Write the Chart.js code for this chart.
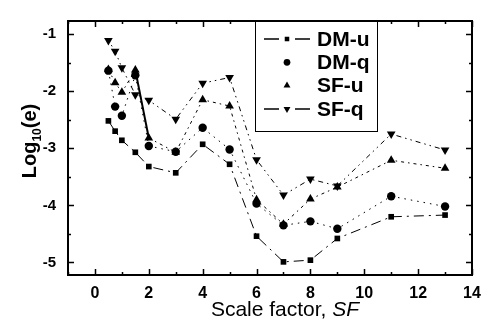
<!DOCTYPE html>
<html>
<head>
<meta charset="utf-8">
<script src="https://cdn.jsdelivr.net/npm/chart.js@4"></script>
<style>
    html, body { margin: 0; padding: 0; background: #fff; }
    #wrap { width: 493px; height: 325px; }
</style>
</head>
<body>
<div id="wrap"><canvas id="grafico" width="493" height="325"></canvas></div>
<script>
// scale factors (x) and log10 errors (y)
const scaleFactor = [0.5, 0.75, 1, 1.5, 2, 3, 4, 5, 6, 7, 8, 9, 11, 13]
const dmU = [-2.52, -2.70, -2.86, -3.07, -3.32, -3.43, -2.93, -3.28, -4.54, -4.99, -4.96, -4.58, -4.20, -4.17]
const dmQ = [-1.64, -2.27, -2.43, -1.72, -2.96, -3.06, -2.64, -3.02, -3.97, -4.35, -4.28, -4.41, -3.84, -4.02]
const sfU = [-1.62, -1.85, -2.02, -1.63, -2.82, -3.07, -2.15, -2.26, -3.90, -4.33, -3.89, -3.68, -3.21, -3.35]
const sfQ = [-1.11, -1.30, -1.59, -2.06, -2.16, -2.49, -1.86, -1.76, -3.20, -3.82, -3.54, -3.66, -2.75, -3.03]

const xTicks = [0, 2, 4, 6, 8, 10, 12, 14]
const yTicks = [-5, -4, -3, -2, -1]
const serie = ['DM-u', 'DM-q', 'SF-u', 'SF-q']

const FONT = '"Liberation Sans", Arial, sans-serif'

function punti(valori) {
    return scaleFactor.map((x, i) => ({ x: x, y: valori[i] }))
}

// frame with inward ticks on all four sides, plus axis titles
const cornice = {
    id: 'cornice',
    afterDraw(chart) {
        let ctx = chart.ctx
        let a = chart.chartArea
        let sx = chart.scales.x
        let sy = chart.scales.y
        ctx.save()
        ctx.strokeStyle = '#000'
        ctx.lineWidth = 2
        ctx.strokeRect(a.left, a.top, a.right - a.left, a.bottom - a.top)
        ctx.lineWidth = 1.5
        ctx.beginPath()
        for (let v = -1; v <= 14; v++) {
            let px = Math.round(sx.getPixelForValue(v)) + 0.5
            let l = (v % 2 == 0) ? 6 : 3
            ctx.moveTo(px, a.bottom); ctx.lineTo(px, a.bottom - l)
            ctx.moveTo(px, a.top); ctx.lineTo(px, a.top + l)
        }
        for (let v = -5; v <= -1; v += 0.5) {
            let py = Math.round(sy.getPixelForValue(v)) + 0.5
            let l = Number.isInteger(v) ? 6 : 3
            ctx.moveTo(a.left, py); ctx.lineTo(a.left + l, py)
            ctx.moveTo(a.right, py); ctx.lineTo(a.right - l, py)
        }
        ctx.stroke()

        ctx.fillStyle = '#000'
        ctx.textBaseline = 'alphabetic'
        let t1 = 'Scale factor, '
        let t2 = 'SF'
        ctx.font = '21px ' + FONT
        let w1 = ctx.measureText(t1).width
        ctx.font = 'italic 21px ' + FONT
        let w2 = ctx.measureText(t2).width
        let x0 = 285 - (w1 + w2) / 2
        ctx.font = '21px ' + FONT
        ctx.fillText(t1, x0, 316)
        ctx.font = 'italic 21px ' + FONT
        ctx.fillText(t2, x0 + w1, 316)

        ctx.translate(36, 141)
        ctx.rotate(-Math.PI / 2)
        ctx.font = 'bold 20px ' + FONT
        let p1 = 'Log', p2 = '10', p3 = '(e)'
        let l1 = ctx.measureText(p1).width
        ctx.font = 'bold 12px ' + FONT
        let l2 = ctx.measureText(p2).width
        ctx.font = 'bold 20px ' + FONT
        let l3 = ctx.measureText(p3).width
        let s = -(l1 + l2 + l3) / 2
        ctx.fillText(p1, s, 0)
        ctx.font = 'bold 12px ' + FONT
        ctx.fillText(p2, s + l1, 5)
        ctx.font = 'bold 20px ' + FONT
        ctx.fillText(p3, s + l1 + l2, 0)
        ctx.restore()
    }
}

// boxed legend inside the plot
const legenda = {
    id: 'legenda',
    afterDraw(chart) {
        let ctx = chart.ctx
        ctx.save()
        ctx.strokeStyle = '#000'
        ctx.lineWidth = 1
        ctx.fillStyle = '#fff'
        ctx.fillRect(255, 21, 122, 110)
        ctx.strokeRect(255.5, 21.5, 122, 110)
        chart.data.datasets.forEach((ds, i) => {
            let y = 39 + i * 23.3
            if (ds.lineaLegenda) {
                ctx.lineWidth = 1.5
                ctx.beginPath()
                ctx.moveTo(264, y); ctx.lineTo(279, y)
                ctx.moveTo(295, y); ctx.lineTo(310, y)
                ctx.stroke()
            }
            ctx.fillStyle = '#000'
            Chart.helpers.drawPoint(ctx, {
                pointStyle: ds.pointStyle,
                radius: ds.pointRadius * 0.8,
                rotation: ds.pointRotation || 0,
                borderWidth: 0
            }, 287, y)
            ctx.fillStyle = '#000'
            ctx.font = 'bold 21px ' + FONT
            ctx.textBaseline = 'middle'
            ctx.fillText(ds.label, 317, y + 1)
        })
        ctx.restore()
    }
}

function serieDataset(nome, valori, stile, r, dash, extra) {
    return Object.assign({
        label: nome,
        data: punti(valori),
        borderColor: '#000',
        backgroundColor: '#000',
        borderWidth: 1,
        borderDash: dash,
        pointStyle: stile,
        pointRadius: r,
        pointHoverRadius: r,
        pointBorderWidth: 0,
        showLine: true,
        fill: false,
        tension: 0
    }, extra || {})
}

new Chart(
    document.getElementById('grafico'),
    {
        type: 'scatter',
        data: {
            datasets: [
                serieDataset(serie[0], dmU, 'rect', 4, [10, 5, 2, 5], { lineaLegenda: true }),
                serieDataset(serie[1], dmQ, 'circle', 4.2, [1.5, 5]),
                serieDataset(serie[2], sfU, 'triangle', 5, [3, 4, 1.5, 4], {
                    segment: {
                        borderDash: c => c.p0DataIndex == 3 ? [] : undefined,
                        borderWidth: c => c.p0DataIndex == 3 ? 2 : undefined
                    }
                }),
                serieDataset(serie[3], sfQ, 'triangle', 5, [1.5, 4, 1.5, 4, 5, 4], { pointRotation: 180, lineaLegenda: true })
            ]
        },
        options: {
            responsive: false,
            animation: false,
            devicePixelRatio: 1,
            layout: { padding: { top: 7, right: 21, left: 0, bottom: 0 } },
            plugins: {
                legend: { display: false },
                tooltip: { enabled: false }
            },
            scales: {
                x: {
                    type: 'linear',
                    min: -1,
                    max: 14,
                    grid: { display: false, drawTicks: false },
                    border: { display: false },
                    afterBuildTicks: s => { s.ticks = xTicks.map(v => ({ value: v })) },
                    afterFit: s => { s.height = 50 },
                    ticks: {
                        padding: 9,
                        color: '#000',
                        font: { family: FONT, size: 16, weight: 'bold' }
                    }
                },
                y: {
                    type: 'linear',
                    min: -5.22,
                    max: -0.77,
                    grid: { display: false, drawTicks: false },
                    border: { display: false },
                    afterBuildTicks: s => { s.ticks = yTicks.map(v => ({ value: v })) },
                    afterFit: s => { s.width = 68 },
                    ticks: {
                        padding: 12,
                        color: '#000',
                        font: { family: FONT, size: 15, weight: 'bold' }
                    }
                }
            }
        },
        plugins: [cornice, legenda]
    }
)
</script>
</body>
</html>
